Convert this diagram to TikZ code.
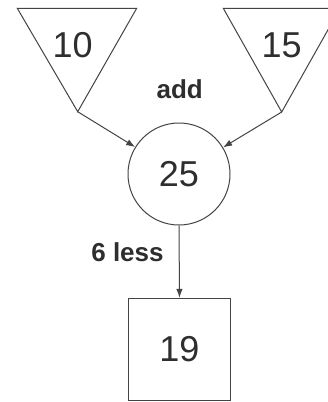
\documentclass[tikz,border=0pt]{standalone}
\usepackage{fontspec}
\setmainfont{Liberation Sans}
\usetikzlibrary{arrows.meta}
\definecolor{ink}{HTML}{2E2E2E}
\definecolor{linec}{HTML}{444444}
\begin{document}
\begin{tikzpicture}[x=1pt,y=-1pt,
  shp/.style={draw=linec, line width=1pt, line join=miter},
  num/.style={font=\fontsize{36}{36}\selectfont, text=ink, inner sep=0pt},
  lbl/.style={font=\fontsize{26}{26}\selectfont\bfseries, text=ink, inner sep=0pt},
  arr/.style={draw=linec, line width=1pt, -{Latex[length=9pt,width=6.5pt]}}]
\useasboundingbox (0,0) rectangle (328,402);
\clip (0,0) rectangle (328,402);
\fill[white] (0,0) rectangle (328,402);
% left input triangle
\draw[shp] (17.3,8.3) -- (136.7,8.3) -- (77.7,111.7) -- cycle;
\coordinate (ta) at (77.7,111.7);
\node[num] (n10) at (72.7,45) {10};
% right input triangle
\draw[shp] (223.3,8.3) -- (340.1,8.3) -- (281.7,112) -- cycle;
\coordinate (tb) at (281.7,112);
\node[num] (n15) at (281.7,45) {15};
% operation label
\node[lbl] (add) at (179.7,89.7) {add};
% sum circle
\node[shp, circle, minimum size=102pt, inner sep=0pt] (c) at (179,174) {};
\node[num] (n25) at (179,174) {25};
% result square
\node[shp, rectangle, minimum size=102.4pt, inner sep=0pt] (s) at (179.5,349.5) {};
\node[num] (n19) at (179.5,349.5) {19};
\node[lbl] (less) at (127.5,252.2) {6 less};
% connectors
\draw[arr] (ta) -- (c);
\draw[arr] (tb) -- (c);
\draw[arr] (c.south) -- (s.north);
\end{tikzpicture}
\end{document}
